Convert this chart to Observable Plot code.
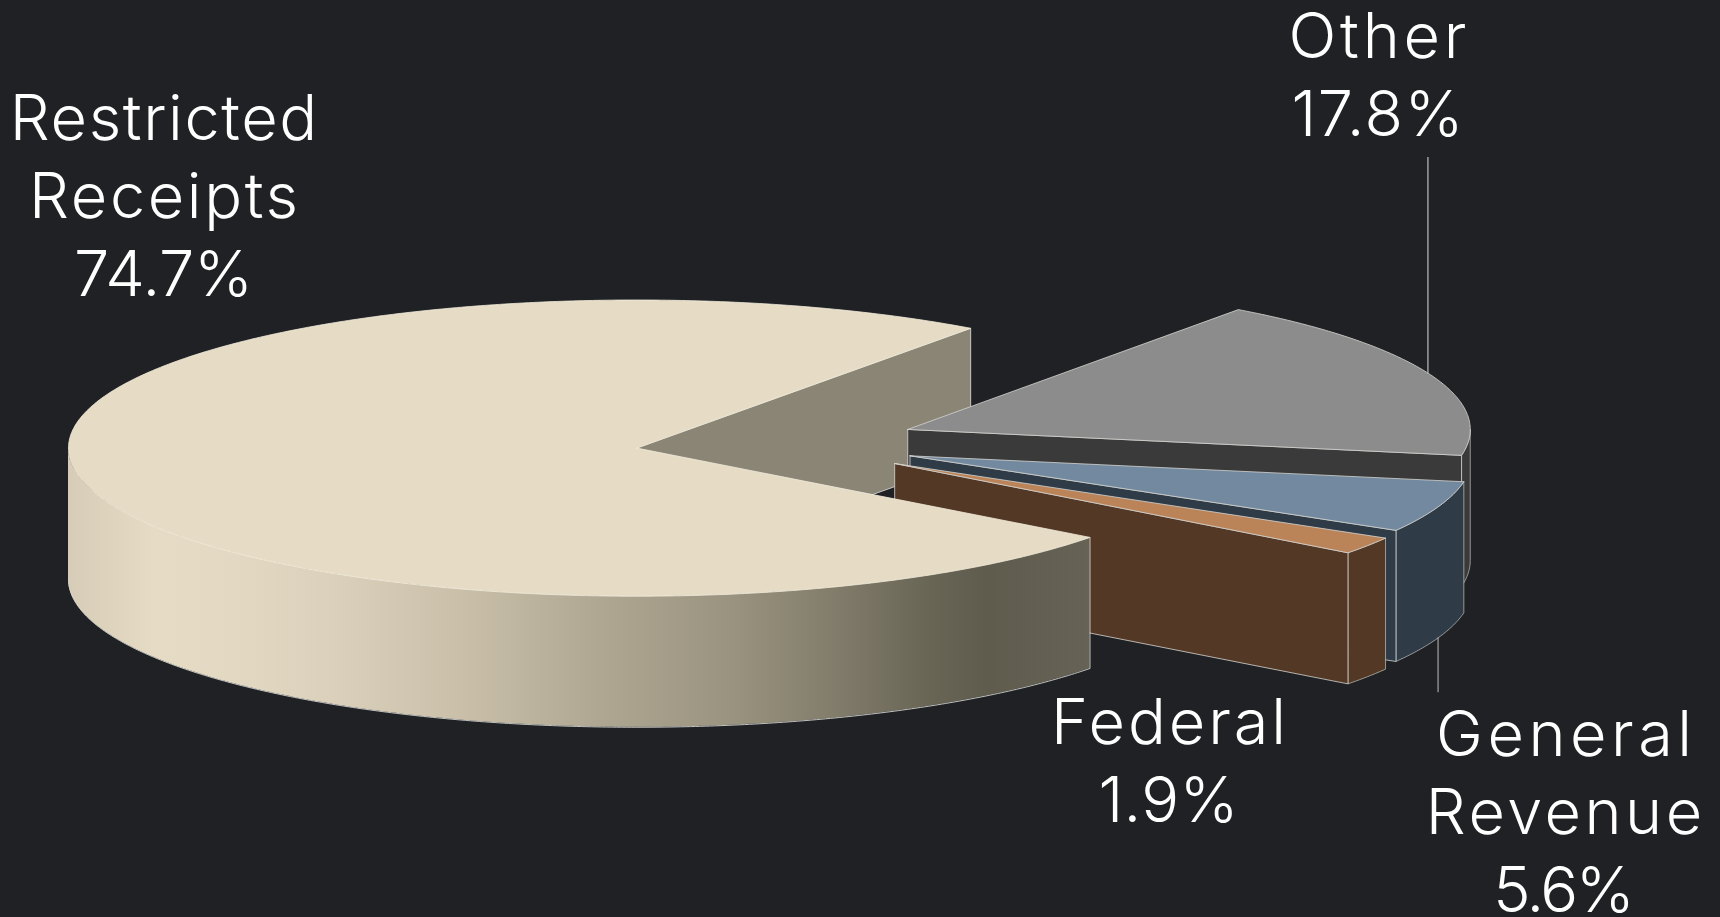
<!DOCTYPE html>
<html>
<head>
<meta charset="utf-8">
<script src="https://cdn.jsdelivr.net/npm/d3@7"></script>
<script src="https://cdn.jsdelivr.net/npm/@observablehq/plot@0.6"></script>
<style>
  html, body { margin: 0; padding: 0; background: #1f2124; overflow: hidden; }
</style>
</head>
<body>
<div id="chart"></div>
<script>
// Revenue shares, in percent, clockwise from the back of the pie.
const categories = ["Other", "General Revenue", "Federal", "Restricted Receipts"];
const values = [17.8, 5.6, 1.9, 74.7];
const labelLines = [["Other"], ["General", "Revenue"], ["Federal"], ["Restricted", "Receipts"]];

// Face colours per slice.
const topColors = ["#8c8c8c", "#72899f", "#bb8358", "#e6dcc5"];
const sideColors = ["#3a3a3a", "#2f3b46", "#533826", "#8b8575"];
const edgeColor = "#d4d4d0";

// Pie geometry. The x and y scales turn the unit circle into the tilted ellipse.
const startAngle = -54;
const depth = 0.885;
const explode = [[0.477, -0.126], [0.481, 0.052], [0.454, 0.104], [0, 0]];
const radiusX = [0.99, 0.99, 1, 1];
const stepDegrees = 0.5;

// Label placement on the page, with each line's width.
const labelPlace = [
  {dx: 1377, dy: 135.5, widths: [178, 172]},
  {dx: 1563.5, dy: 911.5, widths: [256, 276.5, 141.5]},
  {dx: 1168, dy: 821.5, widths: [235, 140]},
  {dx: 163, dy: 295.5, widths: [307.5, 269, 179]}
];

const toRad = (d) => (d * Math.PI) / 180;

const cumulative = d3.cumsum(values);
const slices = categories.map((name, i) => {
  const from = startAngle + ((i ? cumulative[i - 1] : 0) * 360) / 100;
  const to = startAngle + (cumulative[i] * 360) / 100;
  const [ox, oy] = explode[i];
  return {name, value: values[i], from, to, ox, oy, rx: radiusX[i], top: topColors[i], side: sideColors[i]};
});

// Points of a slice's rim between two angles, at the upper and lower face.
function rim(s, a0, a1) {
  const n = Math.max(1, Math.ceil(Math.abs(a1 - a0) / stepDegrees));
  return d3.range(n + 1).map((k) => {
    const a = toRad(a0 + ((a1 - a0) * k) / n);
    const x = s.ox + s.rx * Math.cos(a);
    const y = s.oy + Math.sin(a);
    return {x, y, y2: y + depth};
  });
}
const apex = (s) => ({x: s.ox, y: s.oy, y2: s.oy + depth});

// Outline of the top face, closed at the apex.
const topFace = (s) => [apex(s), ...rim(s, s.from, s.to), apex(s)];

// Outline of the flat wall running from the apex to the rim at the given angle.
function cutWall(s, angle) {
  const a = apex(s);
  const e = rim(s, angle, angle)[0];
  return [
    {x: a.x, y: a.y},
    {x: e.x, y: e.y},
    {x: e.x, y: e.y2},
    {x: a.x, y: a.y2},
    {x: a.x, y: a.y}
  ];
}

// Part of the curved outer wall that faces the viewer.
function outerWall(s) {
  const hi = Math.min(s.to, 180);
  return rim(s, Math.max(s.from, 0), hi);
}

function sliceMarks(s, wallAngle) {
  const wall = outerWall(s);
  const closed = [
    ...wall.map((p) => ({x: p.x, y: p.y})),
    ...wall.slice().reverse().map((p) => ({x: p.x, y: p.y2})),
    {x: wall[0].x, y: wall[0].y}
  ];
  return [
    Plot.line(closed, {x: "x", y: "y", fill: s.side, stroke: edgeColor, strokeWidth: 0.8, strokeOpacity: 0.8}),
    Plot.line(cutWall(s, wallAngle), {x: "x", y: "y", fill: s.side, stroke: edgeColor, strokeWidth: 0.9, strokeOpacity: 0.9}),
    Plot.line(topFace(s), {x: "x", y: "y", fill: s.top, stroke: edgeColor, strokeWidth: 0.9, strokeOpacity: 0.9})
  ];
}

const [other, general, federal, restricted] = slices;

// Lighting across the front of the largest slice.
const shading = [
  [0, "#d6ccb7"], [0.03, "#dcd2bc"], [0.085, "#e6dcc5"], [0.16, "#e3d9c2"], [0.26, "#dbd0bb"],
  [0.39, "#c9bfa9"], [0.52, "#afa792"], [0.65, "#9a937f"], [0.75, "#827c6b"], [0.845, "#686555"], [0.9, "#5f5c4e"], [1, "#666356"]
];
function shadingDefs() {
  const defs = d3.create("svg:defs");
  const g = defs.append("linearGradient").attr("id", "front-shade");
  for (const [o, c] of shading) g.append("stop").attr("offset", o).attr("stop-color", c);
  return defs.node();
}

const front = outerWall(restricted);
const frontEdge = [
  {x: front[0].x, y: front[0].y},
  ...front.map((p) => ({x: p.x, y: p.y2}))
];

// Leader lines hang from the middle of each slice's rim.
const mid = (s) => rim(s, (s.from + s.to) / 2, (s.from + s.to) / 2)[0];

const labels = slices.map((s, i) => Plot.text([s], {
  text: (d) => [...labelLines[i], `${d.value}%`].join("\n"),
  frameAnchor: "top-left",
  lineAnchor: "bottom",
  textAnchor: "middle",
  dx: labelPlace[i].dx,
  dy: labelPlace[i].dy,
  lineHeight: 1.24,
  fontSize: 63,
  fontWeight: 300,
  fill: "#ffffff",
  // Fit each line of the label to its own width.
  render(index, scales, channels, dimensions, context, next) {
    const g = next(index, scales, channels, dimensions, context);
    g.querySelectorAll("tspan").forEach((t, k) => {
      t.setAttribute("textLength", labelPlace[i].widths[k]);
      t.setAttribute("lengthAdjust", "spacing");
    });
    return g;
  }
}));

const chart = Plot.plot({
  width: 1720,
  height: 917,
  margin: 0,
  style: {background: "transparent", fontFamily: "Inter, Lato, sans-serif"},
  x: {domain: [-1, 1], range: [68, 1204.4], axis: null},
  y: {domain: [-1, 1], range: [299.5, 595.7], axis: null},
  marks: [
    shadingDefs,
    Plot.line(cutWall(restricted, restricted.to), {x: "x", y: "y", fill: restricted.side, stroke: edgeColor, strokeWidth: 0.9}),
    ...sliceMarks(other, other.to),
    ...sliceMarks(general, general.to),
    ...sliceMarks(federal, federal.to),
    Plot.area(front, {x1: "x", y1: "y", y2: "y2", fill: "url(#front-shade)"}),
    Plot.line(frontEdge, {x: "x", y: "y", stroke: edgeColor, strokeWidth: 0.9}),
    Plot.line(topFace(restricted), {x: "x", y: "y", fill: restricted.top, stroke: "#f2ecdd", strokeWidth: 0.8}),
    Plot.ruleX([mid(other)], {x: "x", y1: "y", y2: -1.962, dx: -1.5, stroke: "#bdbdbd", strokeWidth: 1.2}),
    Plot.ruleX([mid(general)], {x: "x", y1: "y2", y2: (d) => d.y2 + 0.37, stroke: "#bdbdbd", strokeWidth: 1}),
    ...labels
  ]
});
document.getElementById("chart").append(chart);
</script>
</body>
</html>
